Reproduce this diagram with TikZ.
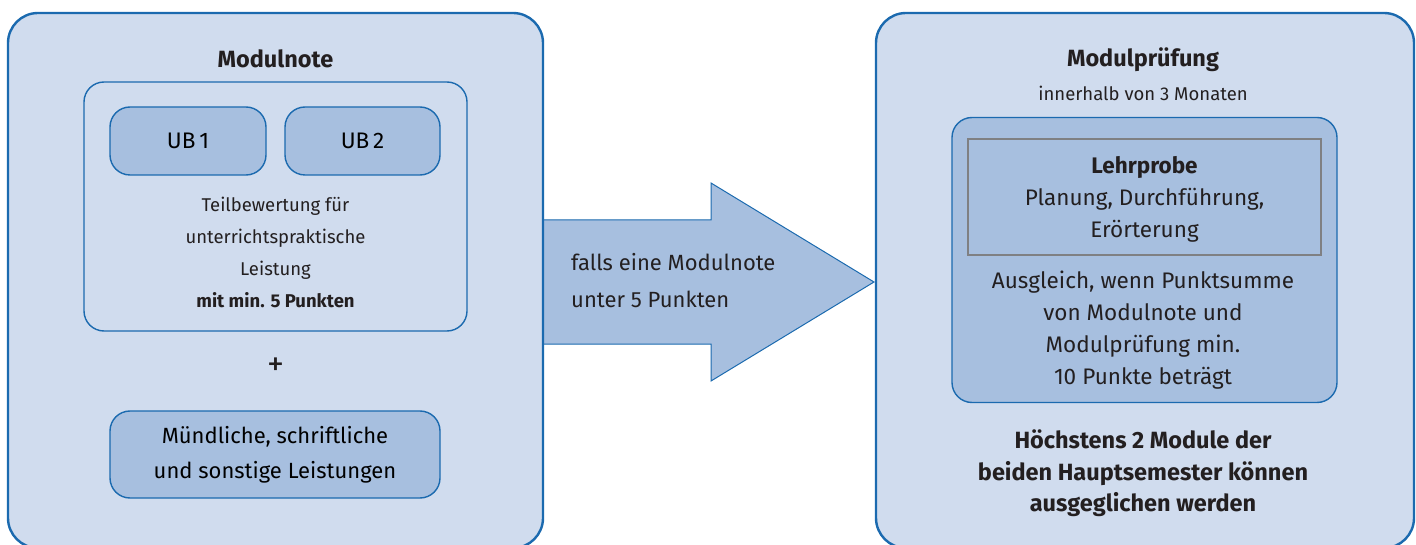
\documentclass[tikz,border=0pt]{standalone}
\usepackage{fontspec}
\setmainfont{Fira Sans}
\usetikzlibrary{positioning}
\definecolor{hellblau}{HTML}{D0DCEE}
\definecolor{mittelblau}{HTML}{A7BFDF}
\definecolor{randblau}{HTML}{1B6AAF}
\definecolor{randgrau}{HTML}{7F8083}
\definecolor{schrift}{HTML}{231F20}
\tikzset{
  aussen/.style={draw=randblau,line width=2.4pt,fill=hellblau,rounded corners=30pt,inner sep=0pt},
  innen/.style={draw=randblau,line width=1.4pt,fill=hellblau,rounded corners=20pt,inner sep=0pt},
  feld/.style={draw=randblau,line width=1.4pt,fill=mittelblau,rounded corners=20pt,inner sep=0pt,align=center},
  txt/.style={text=schrift,align=center,inner sep=0pt},
  gross/.style={font=\fontsize{22.5}{32}\selectfont},
  fett/.style={font=\fontsize{23.5}{31.5}\selectfont\bfseries},
  klein/.style={font=\fontsize{18.5}{32}\selectfont},
}
\begin{document}
\begin{tikzpicture}[x=1pt,y=-1pt]
\useasboundingbox (0,0) rectangle (1416,545);
% Pfeil zwischen den Kaesten
\fill[mittelblau] (543,220)--(711,220)--(711,183)--(874,282)--(711,381)--(711,344)--(543,344)--cycle;
\draw[randblau,line width=1pt] (543,220)--(711,220)--(711,183)--(874,282)--(711,381)--(711,344)--(543,344);
% linker Kasten
\node[aussen,minimum width=535pt,minimum height=535pt] (links) at (275.5,280.5) {};
\node[txt,fett] (note) at (275.5,59) {Modulnote};
\node[innen,minimum width=383pt,minimum height=249pt] (teil) at (275.5,206.5) {};
\node[feld,gross,minimum width=156pt,minimum height=68pt] (ub1) at (188,141) {UB\,1};
\node[feld,gross,minimum width=155pt,minimum height=68pt] (ub2) at (362.5,141) {UB\,2};
\node[txt,klein] (bewertung) at (275.5,252) {Teilbewertung für\\unterrichtspraktische\\Leistung\\\textbf{mit min. 5 Punkten}};
\node[txt,font=\fontsize{34}{32}\selectfont\addfontfeatures{FakeBold=0}] (plus) at (275.5,367) {+};
\node[feld,font=\fontsize{22}{35}\selectfont,minimum width=330pt,minimum height=87pt] (sonst) at (275,454.5) {Mündliche, schriftliche\\und sonstige Leistungen};
% Text im Pfeil
\node[txt,font=\fontsize{22}{37}\selectfont,align=left,anchor=west] (falls) at (571,281) {falls eine Modulnote\\unter 5 Punkten};
% rechter Kasten
\node[aussen,minimum width=538pt,minimum height=535pt] (rechts) at (1145,280.5) {};
\node[txt,fett] (pruefung) at (1143,60) {Modulprüfung};
\node[txt,klein] (monate) at (1143,93) {innerhalb von 3 Monaten};
\node[feld,minimum width=385pt,minimum height=285pt] (ausgleich) at (1144.5,260) {};
\node[draw=randgrau,line width=1.4pt,inner sep=0pt,minimum width=353pt,minimum height=116pt] (lehrprobe) at (1144.5,197) {};
\node[txt,gross] (lehrtext) at (1144.5,199) {\textbf{Lehrprobe}\\Planung, Durchführung,\\Erörterung};
\node[txt,gross] (summe) at (1143,330.5) {Ausgleich, wenn Punktsumme\\von Modulnote und\\Modulprüfung min.\\10 Punkte beträgt};
\node[txt,fett] (hoechstens) at (1143,473.5) {Höchstens 2 Module der\\beiden Hauptsemester können\\ausgeglichen werden};
\end{tikzpicture}
\end{document}
